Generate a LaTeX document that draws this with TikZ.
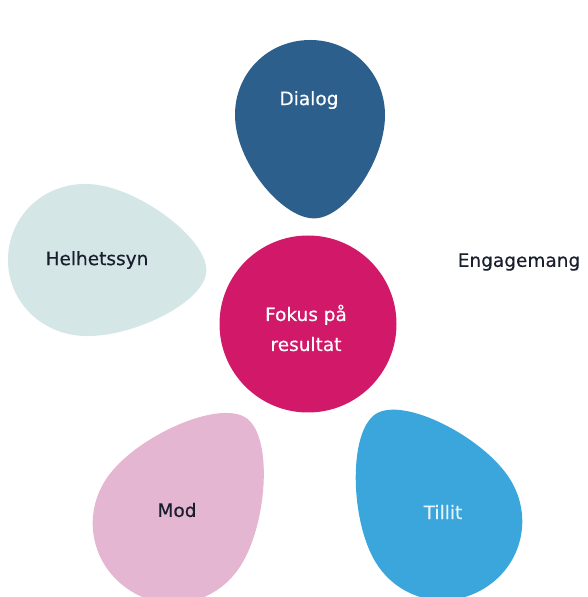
\documentclass[tikz,border=0pt]{standalone}
\usepackage{fontspec}
\setmainfont{DejaVu Sans}
\newfontfamily\lblfont{DejaVu Sans}[FakeBold=0.4]
\definecolor{dialogc}{RGB}{45,95,140}
\definecolor{helc}{RGB}{212,230,230}
\definecolor{fokc}{RGB}{210,25,105}
\definecolor{modc}{RGB}{228,182,210}
\definecolor{tilc}{RGB}{58,166,220}
\definecolor{txtc}{RGB}{25,30,45}
\tikzset{
  lbl/.style={font=\lblfont\fontsize{18.5}{30}\selectfont, inner sep=0pt, align=center}
}
% egg outline, wide end at -x, tip at +x (#1 = tip length)
\newcommand{\eggpath}[1]{(-1,0) .. controls (-1,0.56) and (-0.56,1) .. (0,1)
      .. controls (0.62,1) and (#1,0.42) .. (#1,0)
      .. controls (#1,-0.42) and (0.62,-1) .. (0,-1)
      .. controls (-0.56,-1) and (-1,-0.56) .. (-1,0) -- cycle}
\begin{document}
\begin{tikzpicture}[x=1pt,y=1pt]
\useasboundingbox (0,0) rectangle (588,597);
% Dialog
\begin{scope}[shift={(310,482)}, rotate=-87, x=75pt, y=75pt]
  \fill[dialogc] \eggpath{1.38};
\end{scope}
% Helhetssyn
\begin{scope}[shift={(86,337)}, rotate=-6, x=78pt, y=76pt]
  \fill[helc] \eggpath{1.55};
\end{scope}
% Mod
\begin{scope}[shift={(173,74)}, rotate=55, x=80pt, y=80pt]
  \fill[modc] \eggpath{1.6};
\end{scope}
% Tillit
\begin{scope}[shift={(443,76)}, rotate=122, x=79pt, y=79pt]
  \fill[tilc] \eggpath{1.6};
\end{scope}
% center
\node[circle, fill=fokc, minimum width=177pt, minimum height=172pt, inner sep=0pt] (fok) at (308,273) {};
\node[lbl, text=white] (fokt) at (306,269) {Fokus på\\resultat};
\node[lbl, text=white] (dia) at (309,497) {Dialog};
\node[lbl, text=txtc] (hel) at (97,337) {Helhetssyn};
\node[lbl, text=txtc] (mod) at (177,87) {Mod};
\node[lbl, text=white!88!tilc] (til) at (443,85) {Tillit};
\node[lbl, text=txtc] (eng) at (519,335) {Engagemang};
\end{tikzpicture}
\end{document}
